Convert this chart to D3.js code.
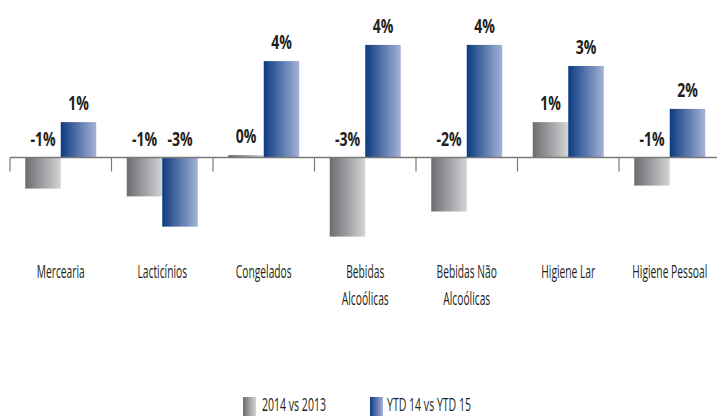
<!DOCTYPE html>
<html>
<head>
<meta charset="utf-8">
<script src="https://cdn.jsdelivr.net/npm/d3@7"></script>
<style>
  body { margin: 0; background: #fff; }
  svg { display: block; }
  text { font-family: 'Open Sans', sans-serif; fill: #231f20; }
</style>
</head>
<body>
<script>
var width = 717;
var height = 416;

// categories and series
var categories = ["Mercearia", "Lacticínios", "Congelados", "Bebidas Alcoólicas",
                  "Bebidas Não Alcoólicas", "Higiene Lar", "Higiene Pessoal"];
var categoryLines = [["Mercearia"], ["Lacticínios"], ["Congelados"], ["Bebidas", "Alcoólicas"],
                     ["Bebidas Não", "Alcoólicas"], ["Higiene Lar"], ["Higiene Pessoal"]];
var seriesNames = ["2014 vs 2013", "YTD 14 vs YTD 15"];
var values2014 = [-1.15, -1.44, 0.09, -2.93, -2.0, 1.31, -1.04];
var valuesYTD = [1.31, -2.56, 3.57, 4.17, 4.17, 3.39, 1.8];

var svg = d3.select("body")
    .append("svg")
    .attr("width", width)
    .attr("height", height);

var defs = svg.append("defs");
function grad(id, c0, c1) {
  var g = defs.append("linearGradient").attr("id", id)
    .attr("x1", "0%").attr("x2", "100%").attr("y1", "0%").attr("y2", "0%");
  g.append("stop").attr("offset", "0%").attr("stop-color", c0);
  g.append("stop").attr("offset", "100%").attr("stop-color", c1);
}
grad("gGray", "#6b6c70", "#d3d4d6");
grad("gBlue", "#0c3b80", "#a5b2d8");
var fills = ["url(#gGray)", "url(#gBlue)"];

var xScale = d3.scaleBand()
  .domain(categories)
  .range([10, 10 + 7 * 101.5]);

var barWidth = 35.5;
var xSub = d3.scaleBand()
  .domain(seriesNames)
  .range([0, barWidth * 2]);

var yScale = d3.scaleLinear()
  .domain([-4, 5])
  .range([157.5 + 108, 157.5 - 135]);

var data = [];
categories.forEach(function(c, i) {
  data.push({cat: c, s: seriesNames[0], v: values2014[i], k: 0});
  data.push({cat: c, s: seriesNames[1], v: valuesYTD[i], k: 1});
});

function barX(d) {
  return xScale(d.cat) + xScale.bandwidth() / 2 - barWidth + xSub(d.s);
}

svg.selectAll("rect.bar")
  .data(data)
  .enter()
  .append("rect")
    .attr("class", "bar")
    .attr("x", barX)
    .attr("y", function(d) { return Math.min(yScale(d.v), yScale(0)); })
    .attr("width", xSub.bandwidth())
    .attr("height", function(d) { return Math.abs(yScale(d.v) - yScale(0)); })
    .attr("fill", function(d) { return fills[d.k]; });

// zero axis with ticks between categories
var y0 = yScale(0);
svg.append("line")
  .attr("x1", 10).attr("x2", width)
  .attr("y1", y0).attr("y2", y0)
  .attr("stroke", "#7a7a7a").attr("stroke-width", 1.5);

svg.selectAll("line.tick")
  .data(categories)
  .enter()
  .append("line")
    .attr("class", "tick")
    .attr("x1", function(d) { return xScale(d); })
    .attr("x2", function(d) { return xScale(d); })
    .attr("y1", y0).attr("y2", y0 + 14)
    .attr("stroke", "#7a7a7a").attr("stroke-width", 1.2);

// value labels (condensed by horizontal scaling)
svg.selectAll("g.val")
  .data(data)
  .enter()
  .append("g")
    .attr("class", "val")
    .attr("transform", function(d) {
      var x = barX(d) + xSub.bandwidth() / 2;
      var y = Math.min(yScale(d.v), y0) - 12;
      return "translate(" + x + "," + y + ") scale(0.72,1)";
    })
  .append("text")
    .attr("text-anchor", "middle")
    .style("font-weight", "bold")
    .style("font-size", "19.5px")
    .text(function(d) { return Math.round(d.v) + "%"; });

// category labels
svg.selectAll("g.cat")
  .data(categories)
  .enter()
  .append("g")
    .attr("class", "cat")
    .attr("transform", function(d) {
      return "translate(" + (xScale(d) + xScale.bandwidth() / 2) + ",278) scale(0.57,1)";
    })
  .each(function(d, i) {
    var t = d3.select(this).append("text")
      .attr("text-anchor", "middle")
      .style("font-size", "18px");
    categoryLines[i].forEach(function(line, j) {
      t.append("tspan")
        .attr("x", 0)
        .attr("dy", j === 0 ? 0 : 27)
        .text(line);
    });
  });

// legend
var legendX = [243, 370];
var legend = svg.selectAll("g.legend")
  .data(seriesNames)
  .enter()
  .append("g")
    .attr("class", "legend")
    .attr("transform", function(d, i) { return "translate(" + legendX[i] + ",0)"; });

legend.append("rect")
  .attr("x", 0).attr("y", 397)
  .attr("width", 13).attr("height", 19)
  .attr("fill", function(d, i) { return fills[i]; });

legend.append("g")
  .attr("transform", function(d, i) { return "translate(" + (i === 0 ? 19 : 17) + ",410.5) scale(0.57,1)"; })
  .append("text")
    .style("font-size", "18.5px")
    .text(function(d) { return d; });
</script>
</body>
</html>
